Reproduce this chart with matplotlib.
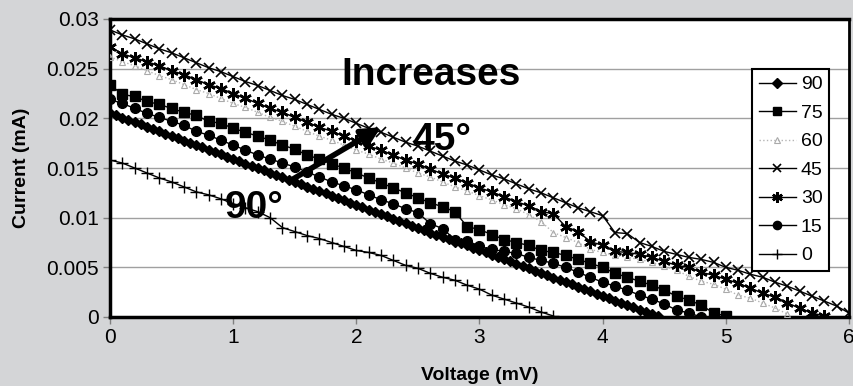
import matplotlib
matplotlib.use("Agg")
import matplotlib.pyplot as plt
import numpy as np

plt.rcParams['font.family'] = ['Liberation Sans', 'DejaVu Sans']

# Voltage sample points (mV)
volts_01 = [0.0, 0.1, 0.2, 0.3, 0.4, 0.5, 0.6, 0.7, 0.8, 0.9,
            1.0, 1.1, 1.2, 1.3, 1.4, 1.5, 1.6, 1.7, 1.8, 1.9,
            2.0, 2.1, 2.2, 2.3, 2.4, 2.5, 2.6, 2.7, 2.8, 2.9,
            3.0, 3.1, 3.2, 3.3, 3.4, 3.5, 3.6, 3.7, 3.8, 3.9,
            4.0, 4.1, 4.2, 4.3, 4.4, 4.5, 4.6, 4.7, 4.8, 4.9,
            5.0, 5.1, 5.2, 5.3, 5.4, 5.5, 5.6, 5.7, 5.8, 5.9, 6.0]
volts_005 = [0.0, 0.05, 0.1, 0.15, 0.2, 0.25, 0.3, 0.35, 0.4, 0.45,
             0.5, 0.55, 0.6, 0.65, 0.7, 0.75, 0.8, 0.85, 0.9, 0.95,
             1.0, 1.05, 1.1, 1.15, 1.2, 1.25, 1.3, 1.35, 1.4, 1.45,
             1.5, 1.55, 1.6, 1.65, 1.7, 1.75, 1.8, 1.85, 1.9, 1.95,
             2.0, 2.05, 2.1, 2.15, 2.2, 2.25, 2.3, 2.35, 2.4, 2.45,
             2.5, 2.55, 2.6, 2.65, 2.7, 2.75, 2.8, 2.85, 2.9, 2.95,
             3.0, 3.05, 3.1, 3.15, 3.2, 3.25, 3.3, 3.35, 3.4, 3.45,
             3.5, 3.55, 3.6, 3.65, 3.7, 3.75, 3.8, 3.85, 3.9, 3.95,
             4.0, 4.05, 4.1, 4.15, 4.2, 4.25, 4.3, 4.35, 4.4, 4.45]

# Currents (mA) for each angle
cur_90 = [0.0205, 0.0203, 0.0200, 0.0198, 0.0196, 0.0194, 0.0191, 0.0189, 0.0187, 0.0184,
          0.0182, 0.0180, 0.0177, 0.0175, 0.0173, 0.0171, 0.0168, 0.0166, 0.0164, 0.0161,
          0.0159, 0.0157, 0.0154, 0.0152, 0.0150, 0.0148, 0.0145, 0.0143, 0.0141, 0.0138,
          0.0136, 0.0134, 0.0131, 0.0129, 0.0127, 0.0125, 0.0122, 0.0120, 0.0118, 0.0115,
          0.0113, 0.0111, 0.0108, 0.0106, 0.0104, 0.0102, 0.0099, 0.0097, 0.0095, 0.0092,
          0.0090, 0.0088, 0.0085, 0.0083, 0.0081, 0.0079, 0.0076, 0.0074, 0.0072, 0.0069,
          0.0067, 0.0065, 0.0062, 0.0060, 0.0058, 0.0056, 0.0053, 0.0051, 0.0049, 0.0046,
          0.0044, 0.0042, 0.0039, 0.0037, 0.0035, 0.0033, 0.0030, 0.0028, 0.0026, 0.0023,
          0.0021, 0.0019, 0.0016, 0.0014, 0.0012, 0.0010, 0.0007, 0.0005, 0.0003, 0.0001]
cur_75 = [0.0234, 0.0224, 0.0222, 0.0217, 0.0214, 0.0210, 0.0206, 0.0203, 0.0197, 0.0195,
          0.0190, 0.0186, 0.0182, 0.0178, 0.0173, 0.0169, 0.0163, 0.0159, 0.0154, 0.0150,
          0.0145, 0.0140, 0.0135, 0.0130, 0.0125, 0.0120, 0.0115, 0.0111, 0.0106, 0.0091,
          0.0088, 0.0083, 0.0078, 0.0075, 0.0072, 0.0067, 0.0065, 0.0062, 0.0058, 0.0054,
          0.0050, 0.0044, 0.0040, 0.0036, 0.0032, 0.0027, 0.0021, 0.0017, 0.0012, 0.0004,
          0.0001]
cur_60 = [0.0262, 0.0257, 0.0253, 0.0248, 0.0243, 0.0239, 0.0234, 0.0229, 0.0225, 0.0220,
          0.0215, 0.0211, 0.0206, 0.0201, 0.0197, 0.0192, 0.0187, 0.0182, 0.0178, 0.0173,
          0.0168, 0.0164, 0.0159, 0.0155, 0.0150, 0.0145, 0.0141, 0.0136, 0.0131, 0.0127,
          0.0122, 0.0118, 0.0113, 0.0109, 0.0103, 0.0096, 0.0085, 0.0080, 0.0075, 0.0068,
          0.0065, 0.0062, 0.0060, 0.0058, 0.0055, 0.0051, 0.0047, 0.0041, 0.0036, 0.0033,
          0.0028, 0.0022, 0.0019, 0.0014, 0.0009, 0.0003]
cur_45 = [0.0289, 0.0284, 0.0280, 0.0275, 0.0270, 0.0266, 0.0261, 0.0256, 0.0251, 0.0247,
          0.0242, 0.0237, 0.0233, 0.0228, 0.0223, 0.0219, 0.0214, 0.0209, 0.0204, 0.0200,
          0.0195, 0.0190, 0.0186, 0.0181, 0.0176, 0.0172, 0.0167, 0.0162, 0.0157, 0.0153,
          0.0148, 0.0143, 0.0139, 0.0134, 0.0129, 0.0125, 0.0120, 0.0115, 0.0110, 0.0106,
          0.0102, 0.0085, 0.0084, 0.0075, 0.0071, 0.0066, 0.0063, 0.0060, 0.0058, 0.0055,
          0.0050, 0.0047, 0.0043, 0.0040, 0.0035, 0.0031, 0.0026, 0.0021, 0.0016, 0.0011,
          0.0004]
cur_30 = [0.0272, 0.0265, 0.0261, 0.0257, 0.0253, 0.0248, 0.0244, 0.0239, 0.0234, 0.0230,
          0.0225, 0.0220, 0.0215, 0.0210, 0.0206, 0.0201, 0.0196, 0.0191, 0.0187, 0.0182,
          0.0177, 0.0172, 0.0168, 0.0163, 0.0158, 0.0154, 0.0149, 0.0144, 0.0140, 0.0135,
          0.0130, 0.0126, 0.0121, 0.0116, 0.0112, 0.0106, 0.0104, 0.0091, 0.0086, 0.0076,
          0.0072, 0.0066, 0.0065, 0.0063, 0.0060, 0.0056, 0.0052, 0.0050, 0.0045, 0.0042,
          0.0038, 0.0034, 0.0029, 0.0024, 0.0020, 0.0014, 0.0009, 0.0004, 0.0001]
cur_15 = [0.0219, 0.0215, 0.0210, 0.0205, 0.0201, 0.0197, 0.0193, 0.0187, 0.0183, 0.0178,
          0.0173, 0.0168, 0.0163, 0.0159, 0.0155, 0.0151, 0.0146, 0.0141, 0.0136, 0.0132,
          0.0128, 0.0123, 0.0118, 0.0114, 0.0109, 0.0105, 0.0094, 0.0089, 0.0078, 0.0077,
          0.0071, 0.0068, 0.0066, 0.0064, 0.0060, 0.0057, 0.0054, 0.0050, 0.0045, 0.0040,
          0.0035, 0.0031, 0.0027, 0.0022, 0.0018, 0.0013, 0.0007, 0.0004, 0.0000]
cur_0 = [0.0158, 0.0155, 0.0150, 0.0145, 0.0140, 0.0136, 0.0131, 0.0126, 0.0123, 0.0119,
         0.0114, 0.0110, 0.0106, 0.0100, 0.0090, 0.0086, 0.0082, 0.0079, 0.0075, 0.0071,
         0.0067, 0.0065, 0.0062, 0.0057, 0.0052, 0.0049, 0.0044, 0.0040, 0.0037, 0.0032,
         0.0028, 0.0022, 0.0018, 0.0014, 0.0010, 0.0005, 0.0001]

x_ticks = [0, 1, 2, 3, 4, 5, 6]
y_ticks = [0, 0.005, 0.01, 0.015, 0.02, 0.025, 0.03]
y_tick_labels = ['0', '0.005', '0.01', '0.015', '0.02', '0.025', '0.03']

bg = '#d4d5d7'
fig = plt.figure(figsize=(8.54, 3.86), dpi=100, facecolor=bg)
ax = fig.add_axes([110 / 854, 1 - 317 / 386, 739 / 854, 298 / 386])
ax.set_facecolor('white')

ax.plot(volts_005[:len(cur_90)], cur_90, color='black', lw=1, marker='D', ms=5.5,
        mfc='black', mec='black', label='90', zorder=5)
ax.plot(volts_01[:len(cur_75)], cur_75, color='black', lw=1, marker='s', ms=7.5,
        mfc='black', mec='black', label='75', zorder=4)
ax.plot(volts_01[:len(cur_60)], cur_60, color='#b5b5b5', lw=1, ls=':', marker='^', ms=5,
        mfc='none', mec='#aaaaaa', mew=0.8, label='60', zorder=3)
ax.plot(volts_01[:len(cur_45)], cur_45, color='black', lw=1, marker='x', ms=7,
        mew=1.2, label='45', zorder=4)
ax.plot(volts_01[:len(cur_30)], cur_30, color='black', lw=1, marker=(6, 2, 0), ms=9,
        mew=1.8, label='30', zorder=4)
ax.plot(volts_01[:len(cur_15)], cur_15, color='black', lw=1, marker='o', ms=7,
        mfc='black', mec='black', label='15', zorder=4)
ax.plot(volts_01[:len(cur_0)], cur_0, color='black', lw=1, marker='+', ms=9,
        mew=1, label='0', zorder=4)

ax.set_xlim(0, 6)
ax.set_ylim(0, 0.03)
ax.set_xticks(x_ticks)
ax.set_xticklabels([str(t) for t in x_ticks])
ax.set_yticks(y_ticks)
ax.set_yticklabels(y_tick_labels)
ax.yaxis.grid(True, color='#a0a0a0', lw=1)
ax.set_axisbelow(True)
ax.tick_params(axis='both', labelsize=15, length=5, width=1, color='#808080', pad=3)

for side in ['left', 'bottom', 'top']:
    ax.spines[side].set_linewidth(2.5)
    ax.spines[side].set_color('black')
ax.spines['right'].set_linewidth(2)
ax.spines['right'].set_color('black')

ax.set_xlabel('Voltage (mV)', fontsize=14, fontweight='bold', labelpad=14)
ax.set_ylabel('Current (mA)', fontsize=14, fontweight='bold', labelpad=12)

ax.text(1.875, 0.02336, 'Increases', fontsize=28, fontweight='bold', va='baseline', ha='left')
ax.text(2.452, 0.01682, '45°', fontsize=28, fontweight='bold', va='baseline', ha='left')
ax.text(0.934, 0.00997, '90°', fontsize=28, fontweight='bold', va='baseline', ha='left')
ax.annotate('', xy=(2.2, 0.0191), xytext=(1.46, 0.0137),
            arrowprops=dict(arrowstyle='-|>', lw=4, color='black', mutation_scale=28,
                            shrinkA=0, shrinkB=0), zorder=6)

leg = ax.legend(loc='upper left', bbox_to_anchor=(0.869, 0.832), fontsize=14,
                frameon=True, fancybox=False, edgecolor='black', framealpha=1,
                labelspacing=0.56, handlelength=1.9, handletextpad=0.25,
                borderpad=0.35, borderaxespad=0, markerscale=0.85)
leg.get_frame().set_linewidth(1.5)

fig.savefig('out.png', dpi=100, facecolor=bg)
